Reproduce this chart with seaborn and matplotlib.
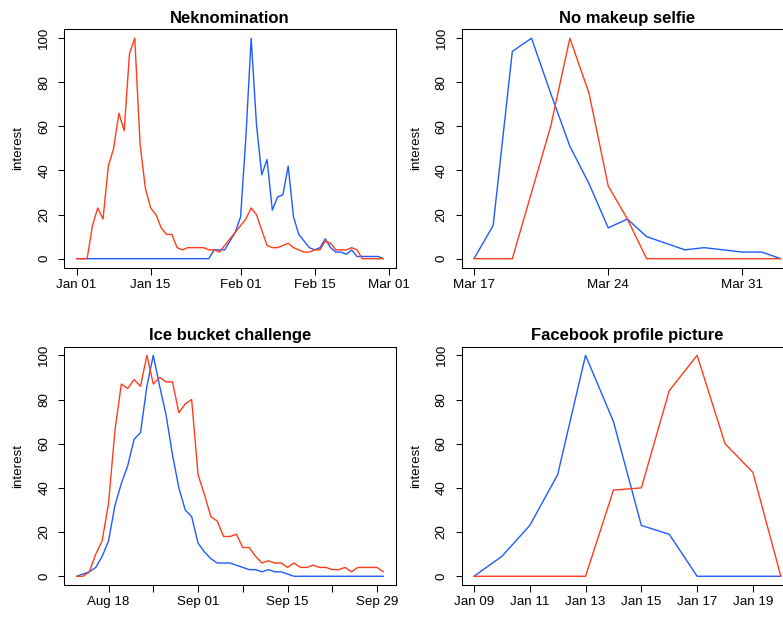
import matplotlib
matplotlib.use("Agg")
import matplotlib.pyplot as plt
import numpy as np
import pandas as pd
import seaborn as sns

# ---------------- data ----------------
neko_start = "2014-01-01"
neko_blue = [0] * 26 + [4, 4, 4, 8, 12, 19, 55, 100, 61, 38, 45, 22, 28, 29, 42, 19, 11, 8, 5, 4,
                        5, 9, 5, 3, 3, 2, 4, 1, 1, 1, 1, 1, 0]
neko_red = [0, 0, 0, 15, 23, 18, 42, 50, 66, 58, 93, 100, 52, 32, 23, 20, 14, 11, 11, 5,
            4, 5, 5, 5, 5, 4, 4, 3, 6, 9, 12, 15, 18, 23, 20, 13, 6, 5, 5, 6,
            7, 5, 4, 3, 3, 4, 4, 8, 7, 4, 4, 4, 5, 4, 0, 0, 0, 0, 0]
neko_ticks = ["2014-01-01", "2014-01-15", "2014-02-01", "2014-02-15", "2014-03-01"]
neko_labels = ["Jan 01", "Jan 15", "Feb 01", "Feb 15", "Mar 01"]

nomk_start = "2014-03-17"
nomk_blue = [0, 15, 94, 100, 75, 51, 34, 14, 18, 10, 7, 4, 5, 4, 3, 3, 0]
nomk_red = [0, 0, 0, 30, 60, 100, 75, 33, 18, 0, 0, 0, 0, 0, 0, 0, 0]
nomk_ticks = ["2014-03-17", "2014-03-24", "2014-03-31"]
nomk_labels = ["Mar 17", "Mar 24", "Mar 31"]

ice_start = "2014-08-13"
ice_blue = [0, 1, 2, 4, 9, 16, 32, 42, 50, 62, 65, 86, 100, 86, 73, 55, 40, 30, 27, 15,
            11, 8, 6, 6, 6, 5, 4, 3, 3, 2, 3, 2, 2, 1, 0] + [0] * 14
ice_red = [0, 0, 2, 10, 16, 33, 66, 87, 85, 89, 86, 100, 87, 90, 88, 88, 74, 78, 80, 46,
           37, 27, 25, 18, 18, 19, 13, 13, 9, 6, 7, 6, 6, 4, 6, 4, 4, 5, 4, 4,
           3, 3, 4, 2, 4, 4, 4, 4, 2]
ice_ticks = ["2014-08-18", "2014-08-25", "2014-09-01", "2014-09-08", "2014-09-15",
             "2014-09-22", "2014-09-29"]
ice_labels = ["Aug 18", "", "Sep 01", "", "Sep 15", "", "Sep 29"]

fb_start = "2015-01-09"
fb_blue = [0, 9, 23, 46, 100, 70, 23, 19, 0, 0, 0, 0]
fb_red = [0, 0, 0, 0, 0, 39, 40, 84, 100, 60, 47, 0]
fb_ticks = ["2015-01-09", "2015-01-11", "2015-01-13", "2015-01-15", "2015-01-17", "2015-01-19"]
fb_labels = ["Jan 09", "Jan 11", "Jan 13", "Jan 15", "Jan 17", "Jan 19"]

titles = ["Neknomination", "No makeup selfie", "Ice bucket challenge", "Facebook profile picture"]
y_ticks = [0, 20, 40, 60, 80, 100]

BLUE = "#1f5cff"
RED = "#ff3d1a"

# ---------------- style ----------------
sns.set_theme(style="ticks")
plt.rcParams["font.family"] = ["Liberation Sans", "DejaVu Sans"]
plt.rcParams["text.color"] = "black"
plt.rcParams["axes.labelcolor"] = "black"
plt.rcParams["axes.titlecolor"] = "black"

fig = plt.figure(figsize=(7.83, 6.19), dpi=100)

W = 331.4 / 783
H_top = (267.5 - 29.4) / 619
positions = [
    (64.3 / 783, 1 - 267.5 / 619, W, H_top),
    (461.7 / 783, 1 - 267.5 / 619, W, H_top),
    (64.3 / 783, 1 - 585.1 / 619, W, (585.1 - 346.5) / 619),
    (461.7 / 783, 1 - 585.1 / 619, W, (585.1 - 346.5) / 619),
]

panels = [
    (neko_start, neko_blue, neko_red, neko_ticks, neko_labels),
    (nomk_start, nomk_blue, nomk_red, nomk_ticks, nomk_labels),
    (ice_start, ice_blue, ice_red, ice_ticks, ice_labels),
    (fb_start, fb_blue, fb_red, fb_ticks, fb_labels),
]

for pos, title, (start, blue, red, ticks, labels) in zip(positions, titles, panels):
    ax = fig.add_axes(pos)
    dates = pd.date_range(start, periods=len(blue), freq="D")
    df = pd.DataFrame({
        "date": np.concatenate([dates, dates]),
        "interest": blue + red,
        "series": ["a"] * len(blue) + ["b"] * len(red),
    })
    sns.lineplot(data=df, x="date", y="interest", hue="series",
                 palette={"a": BLUE, "b": RED}, linewidth=1.0, legend=False, ax=ax)
    span = dates[-1] - dates[0]
    pad = span * 0.04
    ax.set_xlim(dates[0] - pad, dates[-1] + pad)
    ax.set_ylim(-4, 104)
    ax.set_xticks(pd.to_datetime(ticks))
    ax.set_xticklabels(labels)
    ax.set_yticks(y_ticks)
    ax.set_yticklabels([str(v) for v in y_ticks], rotation=90, va="center")
    ax.tick_params(axis="x", length=4.8, width=0.75, pad=3.2, labelsize=9.6, colors="black")
    ax.tick_params(axis="y", length=4.5, width=0.75, pad=5.5, labelsize=9.6, colors="black")
    for s in ax.spines.values():
        s.set_visible(True)
        s.set_linewidth(0.75)
        s.set_color("black")
    ax.set_xlabel("")
    ax.set_ylabel("interest", fontsize=9.6, color="black")
    ax.yaxis.set_label_coords(-0.12, 0.5)
    ax.set_title(title, fontsize=12, fontweight="bold", pad=4.8, color="black")
    ax.grid(False)

fig.savefig("out.png", dpi=100)
